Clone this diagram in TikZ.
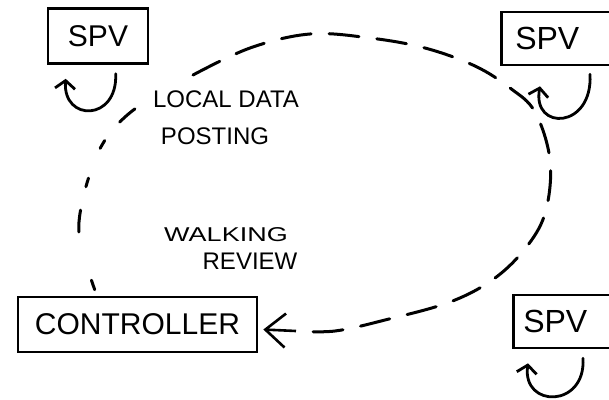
\documentclass[tikz,border=0pt]{standalone}
\usepackage{fontspec}
\setmainfont{Liberation Sans}
\usetikzlibrary{arrows.meta}
\begin{document}
\begin{tikzpicture}[x=1pt,y=-1pt,
  box/.style={draw, line width=2.6pt, inner sep=0pt},
  lbl/.style={inner sep=0pt, font=\fontsize{24}{26}\selectfont},
  selfloop/.style={line width=2.8pt, line cap=round,
    -{Straight Barb[length=8pt,width=20pt]}},
  longdash/.style={line width=3pt, line cap=round, dash pattern=on 30pt off 18pt},
  sparsedash/.style={line width=3pt, line cap=round,
    dash pattern=on 10pt off 50pt on 22pt off 24pt on 9pt off 32pt on 9pt off 24pt on 20pt off 140pt},
  inarrow/.style={line width=2.6pt, -{Straight Barb[length=20pt,width=34pt]}}]
\fill[white] (0,0) rectangle (609,399);
\useasboundingbox (0,0) rectangle (609,399);
\clip (0,0) rectangle (609,399);

% stations and controller
\node[box, minimum width=100pt, minimum height=55pt,
  font=\fontsize{30}{32}\selectfont] (spv1) at (98,36) {SPV};
\node[box, anchor=west, text width=104pt, align=left, inner xsep=14pt,
  minimum height=53pt, font=\fontsize{32}{34}\selectfont] (spv2) at (500,38.5) {SPV};
\node[box, anchor=west, text width=104pt, align=left, inner xsep=10pt,
  minimum height=53pt, font=\fontsize{32}{34}\selectfont] (spv3) at (512,321.5) {SPV};
\node[box, minimum width=239pt, minimum height=55pt,
  font=\fontsize{30}{32}\selectfont] (ctrl) at (137.5,324.5) {CONTROLLER};

% labels
\node[lbl] (local) at (226,99) {LOCAL DATA};
\node[lbl] (posting) at (215,136) {POSTING};
\node[lbl, font=\fontsize{20}{22}\selectfont, xscale=1.35] (walking) at (226,235) {WALKING};
\node[lbl, font=\fontsize{24}{26}\selectfont] (review) at (250,261) {REVIEW};

% local self loops under each station
\draw[selfloop] ([shift={(69,9)}]spv1.south west)
  .. controls +(2,48) and +(-3,43) .. ([shift={(19,14)}]spv1.south west);
\draw[selfloop] ([shift={(90,8)}]spv2.south west)
  .. controls +(3,55) and +(-8,45) .. ([shift={(40,20)}]spv2.south west);
\draw[selfloop] ([shift={(71,9)}]spv3.south west)
  .. controls +(3,50) and +(-6,45) .. ([shift={(16,14)}]spv3.south west);

% walking review loop
\coordinate (bend) at (193,75);
\coordinate (tail) at (296,331);
\coordinate (tip) at ([shift={(5,5)}]ctrl.east);
\draw[sparsedash] plot[smooth, tension=0.6] coordinates {
  ([shift={(78,-6)}]ctrl.north west) (82,250) (79,222) (87,183)
  (102,145) (125,117) (160,92) (bend)};
\draw[longdash] plot[smooth, tension=0.6] coordinates {
  (bend) (250,48) (310,34) (370,38) (425,48) (475,66) (510,88)
  (535,112) (550,160) (546,210) (528,245) (495,278) (450,302)
  (385,320) (335,331) (tail)};
\draw[inarrow] (tail) -- (tip);
\end{tikzpicture}
\end{document}
